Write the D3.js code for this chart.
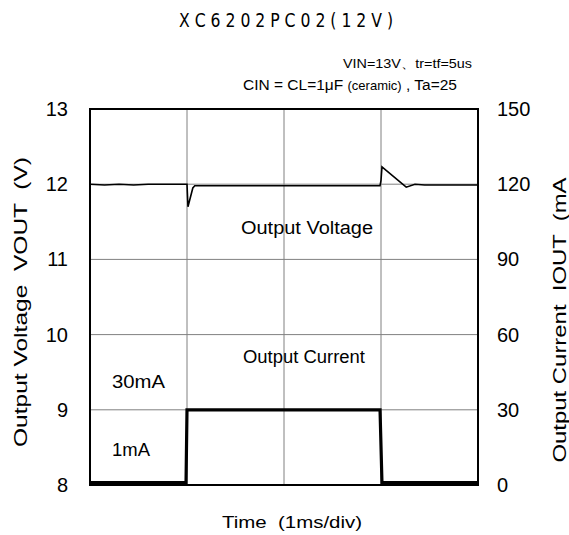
<!DOCTYPE html>
<html><head><meta charset="utf-8">
<script src="https://cdn.jsdelivr.net/npm/d3@7"></script>
<style>
body{margin:0;background:#fff;}
text{font-family:"Liberation Sans",Arial,sans-serif;fill:#000;white-space:pre;}
</style></head>
<body><svg id="c" width="569" height="535"></svg>
<script>
// Data
const timeMs = [0, 0.15, 0.3, 0.45, 0.6, 0.75, 0.99, 1.0, 1.01, 1.06, 1.08, 2.99, 3.0, 3.01, 3.26, 3.35, 3.45, 3.6, 4.0];
const voutV  = [12.0, 11.99, 12.0, 11.99, 12.0, 12.0, 12.0, 12.0, 11.7, 11.95, 11.98, 11.98, 12.05, 12.23, 11.96, 12.0, 11.99, 11.99, 11.99];
const currTimeMs = [0, 0.99, 1.0, 2.99, 3.01, 4.0];
const ioutMA     = [1, 1, 30, 30, 1, 1];
const voltTicks = [8, 9, 10, 11, 12, 13];
const currTicks = [0, 30, 60, 90, 120, 150];
const timeGrid = [1, 2, 3];

const svg = d3.select("#c");
const L = 90, R = 478, T = 109, B = 485;
const x = d3.scaleLinear().domain([0, 4]).range([L, R]);
const yV = d3.scaleLinear().domain([8, 13]).range([B, T]);
const yI = d3.scaleLinear().domain([0, 150]).range([B, T]);

// grid
const g = svg.append("g");
g.selectAll(".vg").data(timeGrid).enter().append("line")
  .attr("x1", d => x(d)).attr("x2", d => x(d)).attr("y1", T).attr("y2", B)
  .attr("stroke", "#808080").attr("stroke-width", 1);
g.selectAll(".hg").data(voltTicks.slice(1, -1)).enter().append("line")
  .attr("x1", L).attr("x2", R).attr("y1", d => yV(d)).attr("y2", d => yV(d))
  .attr("stroke", "#808080").attr("stroke-width", 1);

// axes (labels only)
const axL = svg.append("g").attr("transform", `translate(${L},0)`)
  .call(d3.axisLeft(yV).tickValues(voltTicks).tickFormat(d3.format("d")).tickSize(0).tickPadding(22));
const axR = svg.append("g").attr("transform", `translate(${R},0)`)
  .call(d3.axisRight(yI).tickValues(currTicks).tickFormat(d3.format("d")).tickSize(0).tickPadding(19));
[axL, axR].forEach(a => {
  a.select(".domain").remove();
  a.selectAll("text").style("font-family", "Liberation Sans, Arial, sans-serif")
    .style("font-size", "20px").attr("fill", "#000");
});

// current line
svg.append("path").datum(currTimeMs.map((t, i) => [t, ioutMA[i]]))
  .attr("d", d3.line().x(d => x(d[0])).y(d => yI(d[1])))
  .attr("fill", "none").attr("stroke", "#000").attr("stroke-width", 3.2);

// voltage line
svg.append("path").datum(timeMs.map((t, i) => [t, voutV[i]]))
  .attr("d", d3.line().x(d => x(d[0])).y(d => yV(d[1])))
  .attr("fill", "none").attr("stroke", "#000").attr("stroke-width", 1.6);

// border
svg.append("rect").attr("x", L).attr("y", T).attr("width", R - L).attr("height", B - T)
  .attr("fill", "none").attr("stroke", "#000").attr("stroke-width", 2);

function txt(xp, yp, s, size, anchor, len) {
  const t = svg.append("text").attr("x", xp).attr("y", yp).attr("text-anchor", anchor || "start")
    .style("font-size", size + "px").text(s);
  if (len) t.attr("textLength", len).attr("lengthAdjust", "spacingAndGlyphs");
  return t;
}

// title
txt(286, 27, "X C 6 2 0 2 P C 0 2 ( 1 2 V )", 19, "middle", 214)
  .style("font-family", "DejaVu Sans Condensed, DejaVu Sans");
txt(472, 68, "VIN=13V、tr=tf=5us", 13, "end", 129);
const t2 = svg.append("text").attr("x", 457).attr("y", 90).attr("text-anchor", "end").style("font-size", "15.5px");
t2.append("tspan").text("CIN = CL=1μF ");
t2.append("tspan").style("font-size", "13px").text("(ceramic)");
t2.append("tspan").text(" , Ta=25");

txt(307, 234, "Output Voltage", 18, "middle", 132);
txt(304, 363, "Output Current", 18, "middle", 122);
txt(112, 388, "30mA", 18, "start", 53);
txt(112, 456, "1mA", 18, "start", 38);
txt(292, 528, "Time  (1ms/div)", 16, "middle", 140);

svg.append("text").attr("transform", "translate(27,302) rotate(-90)").attr("text-anchor", "middle")
  .style("font-size", "17.5px").attr("textLength", 290).attr("lengthAdjust", "spacingAndGlyphs")
  .text("Output Voltage  VOUT  (V)");
svg.append("text").attr("transform", "translate(566,320) rotate(-90)").attr("text-anchor", "middle")
  .style("font-size", "17.5px").attr("textLength", 285).attr("lengthAdjust", "spacingAndGlyphs")
  .text("Output Current  IOUT  (mA");
</script></body></html>
